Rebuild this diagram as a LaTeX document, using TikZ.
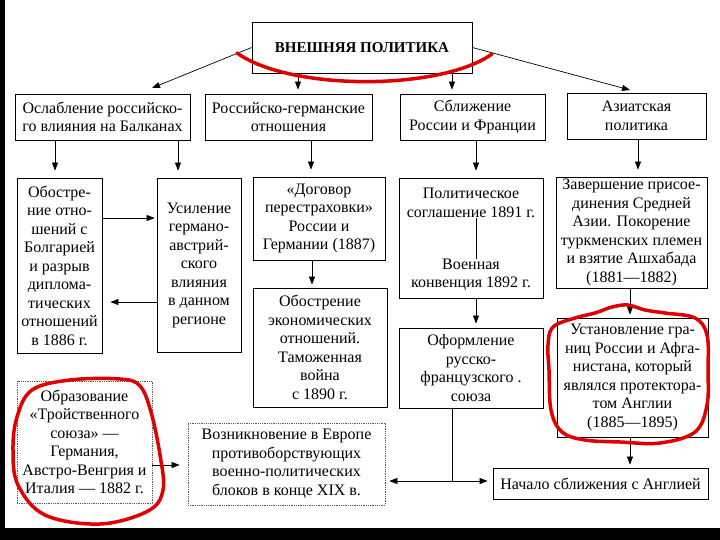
\documentclass[tikz,border=0pt]{standalone}
\usepackage{fontspec}
\setmainfont{Liberation Serif}
\usetikzlibrary{arrows.meta}
\begin{document}
\begin{tikzpicture}[x=1pt,y=-1pt,
  box/.style={draw, line width=0.8pt, inner sep=1pt, align=center, font=\fontsize{16}{18.5}\selectfont},
  dbox/.style={box, draw=black!65, densely dotted},
  txt/.style={inner sep=0pt, align=center, font=\fontsize{16}{18.5}\selectfont},
  arr/.style={-{Triangle[length=8pt,width=6pt]}, line width=0.7pt},
  gap/.style={shorten >=#1},
  redmark/.style={draw=red!88!black, line width=3.5pt, line cap=round, line join=round}]
\useasboundingbox (0,0) rectangle (720,540);
\fill[white] (0,0) rectangle (720,540);
\fill[black] (0,0) rectangle (5,540);
\fill[black] (0,528) rectangle (720,540);

% title
\node[box, minimum width=220pt, minimum height=51pt, font=\bfseries\fontsize{15}{18}\selectfont] (T) at (362,47.5) {ВНЕШНЯЯ ПОЛИТИКА};

% row 1
\node[box, minimum width=175pt, minimum height=46pt] (A) at (102.5,117) {Ослабление российско-\\го влияния на Балканах};
\node[box, minimum width=167pt, minimum height=46pt] (B) at (288.5,117) {Российско-германские\\отношения};
\node[box, minimum width=145pt, minimum height=46pt] (C) at (472.5,117) {Сближение\\России и Франции};
\node[box, minimum width=139pt, minimum height=46pt] (D) at (636.5,116) {Азиатская\\политика};

% row 2
\node[box, minimum width=85pt, minimum height=175pt] (E) at (59.5,265.5) {Обостре-\\ние отно-\\шений с\\Болгарией\\и разрыв\\диплома-\\тических\\отношений\\в 1886 г.};
\node[box, minimum width=84pt, minimum height=174pt] (F) at (199,265) {Усиление\\германо-\\австрий-\\ского\\влияния\\в данном\\регионе};
\node[box, minimum width=132pt, minimum height=83pt] (G) at (319,218.5) {«Договор\\перестраховки»\\России и\\Германии (1887)};
\node[box, minimum width=134pt, minimum height=119pt] (H) at (320,347.5) {Обострение\\экономических\\отношений.\\Таможенная\\война\\с 1890 г.};
\node[box, minimum width=144pt, minimum height=120pt] (I) at (471,238) {};
\node[txt] (I1) at (471,203) {Политическое\\соглашение 1891 г.};
\node[txt] (I2) at (471,275) {Военная\\конвенция 1892 г.};
\node[box, minimum width=144pt, minimum height=80pt] (J) at (471,368) {Оформление\\русско-\\французского .\\союза};
\node[box, minimum width=151pt, minimum height=111pt] (K) at (631.5,232.5) {Завершение присое-\\динения Средней\\Азии. Покорение\\туркменских племен\\и взятие Ашхабада\\(1881—1882)};
\node[box, minimum width=151pt, minimum height=119pt] (L) at (632.5,377.5) {Установление гра-\\ниц России и Афга-\\нистана, который\\являлся протектора-\\том Англии\\(1885—1895)};
\node[box, minimum width=215pt, minimum height=31pt] (N) at (600.5,483.5) {Начало сближения с Англией};
\node[dbox, minimum width=135pt, minimum height=122pt] (M) at (84.5,442) {Образование\\«Тройственного\\союза» —\\Германия,\\Австро-Венгрия и\\Италия — 1882 г.};
\node[dbox, minimum width=197pt, minimum height=82pt] (O) at (286.5,464) {Возникновение в Европе\\противоборствующих\\военно-политических\\блоков в конце XIX в.};

% arrows from title
\coordinate (tl) at (152,88);
\coordinate (tr) at (630,90);
\draw[arr] (T.west) -- (tl);
\draw[arr] (T.east) -- (tr);
\draw[arr, gap=4pt] (298,0 |- T.south) -- (298,0 |- B.north);
\draw[arr, gap=4pt] (452,0 |- T.south) -- (452,0 |- C.north);

% row1 -> row2
\draw[arr, gap=7pt] (55,0 |- A.south) -- (55,0 |- E.north);
\draw[arr, gap=7pt] (178,0 |- A.south) -- (178,0 |- F.north);
\draw[arr, gap=7pt] (311,0 |- B.south) -- (311,0 |- G.north);
\draw[arr, gap=7pt] (476,0 |- C.south) -- (476,0 |- I.north);
\draw[arr, gap=7pt] (638,0 |- D.south) -- (638,0 |- K.north);

% inside
\draw[arr, gap=2pt] (E.east |- 0,218) -- (F.west |- 0,218);
\draw[arr, gap=8pt] (F.west |- 0,302) -- (E.east |- 0,302);
\draw[arr, gap=3pt] (312,0 |- G.south) -- (312,0 |- H.north);
\draw[line width=0.6pt] (476,0 |- I1.south) -- (476,0 |- I2.north);
\draw[arr, gap=4pt] (476,0 |- I.south) -- (476,0 |- J.north);
\draw[arr, gap=3pt] (630,0 |- K.south) -- (630,0 |- L.north);
\draw[arr, gap=3pt] (630,0 |- L.south) -- (630,0 |- N.north);
\draw[arr, gap=8pt] (M.east |- 0,465) -- (O.west |- 0,465);
\coordinate (jb) at (452,481);
\draw[line width=0.7pt] (452,0 |- J.south) -- (jb);
\draw[arr, gap=4pt] (jb) -- (O.east |- jb);
\draw[arr, gap=5pt] (jb) -- (N.west |- jb);

% red marks
\draw[redmark] (237,53) .. controls (290,91) and (440,91) .. (492,54);
\draw[redmark] plot[smooth cycle, tension=0.6] coordinates {(120,379) (140,386) (151,412) (160,455) (163,490) (148,511) (100,524) (45,515) (18,485) (13,450) (17,417) (32,390) (70,380)};
\draw[redmark] plot[smooth cycle, tension=0.6] coordinates {(553,327) (575,318) (595,313) (612,307) (628,305) (645,310) (665,313) (695,318) (707,335) (708,370) (707,405) (695,432) (660,443) (620,442) (585,440) (562,432) (551,410) (549,370) (548,345)};
\end{tikzpicture}
\end{document}
